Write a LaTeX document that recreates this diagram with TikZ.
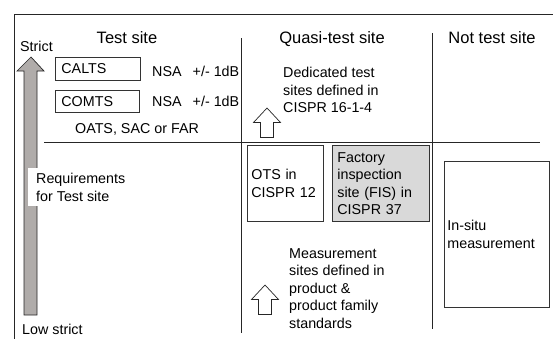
\documentclass[tikz,border=0pt]{standalone}
\usepackage{fontspec}
\setmainfont{Liberation Sans}
\definecolor{arrowgray}{RGB}{176,172,170}
\definecolor{fisgray}{RGB}{217,217,217}
\tikzset{
  pics/hollowup/.style={code={
    \draw[fill=white, draw=black!85, line width=0.7pt] (0,0) -- (13.5,14.5) -- (6.5,14.5) -- (6.5,29.5)
      -- (-6.5,29.5) -- (-6.5,14.5) -- (-13.5,14.5) -- cycle;
  }},
  frame/.style={line width=0.8pt, draw=black!85},
  head/.style={font=\fontsize{16.5}{19}\selectfont, inner sep=0pt},
  lab/.style={font=\fontsize{14.3}{17.5}\selectfont, inner sep=0pt, align=left},
  sitebox/.style={draw=black!80, line width=0.8pt, font=\fontsize{14.3}{17.5}\selectfont,
    align=left, inner ysep=0pt, anchor=north west}
}
\begin{document}
\begin{tikzpicture}[x=1pt,y=-1pt]
\clip (0,0) rectangle (553,338);

% ---------------- Frame and column dividers ----------------
\draw[frame] (14,14) rectangle (570,350);
\draw[frame] (241,38) -- (241,333);
\draw[frame] (432,33) -- (432,329);
\draw[frame] (44,142) -- (540,142);

% ---------------- Column headings ----------------
\node[head, anchor=base] (hTest) at (127,43) {Test site};
\node[head, anchor=base] (hQuasi) at (332,43) {Quasi-test site};
\node[head, anchor=base] (hNot) at (492,43) {Not test site};

% ---------------- Strictness arrow ----------------
\node[lab, anchor=base west] (strict) at (20,51) {Strict};
\draw[fill=arrowgray, draw=black!85, line width=0.7pt] (31,57) -- (44,71) -- (37,71) -- (37,315)
  -- (24,315) -- (24,71) -- (17,71) -- cycle;
\node[lab, fill=white, inner xsep=8pt, inner ysep=5pt, anchor=north west] (req) at (28,168)
  {Requirements\\for Test site};
\node[lab, anchor=base west] (low) at (22,334.5) {Low strict};

% ---------------- Test site ----------------
\node[sitebox, text width=73pt, inner xsep=6pt, minimum height=23pt] (calts) at (55,57) {CALTS};
\node[sitebox, text width=72pt, inner xsep=6pt, minimum height=22pt] (comts) at (55,90) {COMTS};
\node[lab, anchor=base west] (nsa1) at (152,76) {NSA\enspace\ +/- 1dB};
\node[lab, anchor=base west] (nsa2) at (152,106) {NSA\enspace\ +/- 1dB};
\node[lab, anchor=base] (oats) at (137,133) {OATS, SAC or FAR};

% ---------------- Quasi-test site ----------------
\node[lab, anchor=north west] (dedic) at (283,67) {Dedicated test\\sites defined in\\CISPR 16-1-4};
\draw (267,108) pic {hollowup};
\node[sitebox, text width=68pt, inner xsep=4pt, minimum height=76pt] (ots) at (247,145) {OTS in\\CISPR 12};
\node[sitebox, fill=fisgray, text width=87pt, inner xsep=5pt, minimum height=76pt] (fis) at (332,145)
  {Factory\\inspection\\site (FIS) in\\CISPR 37};
\node[lab, anchor=north west] (meas) at (289,248)
  {Measurement\\sites defined in\\product \&\\product family\\standards};
\draw (265,285) pic {hollowup};

% ---------------- Not test site ----------------
\node[sitebox, text width=99pt, inner xsep=3pt, minimum height=146pt] (insitu) at (444,161)
  {In-situ\\measurement};

\end{tikzpicture}
\end{document}
